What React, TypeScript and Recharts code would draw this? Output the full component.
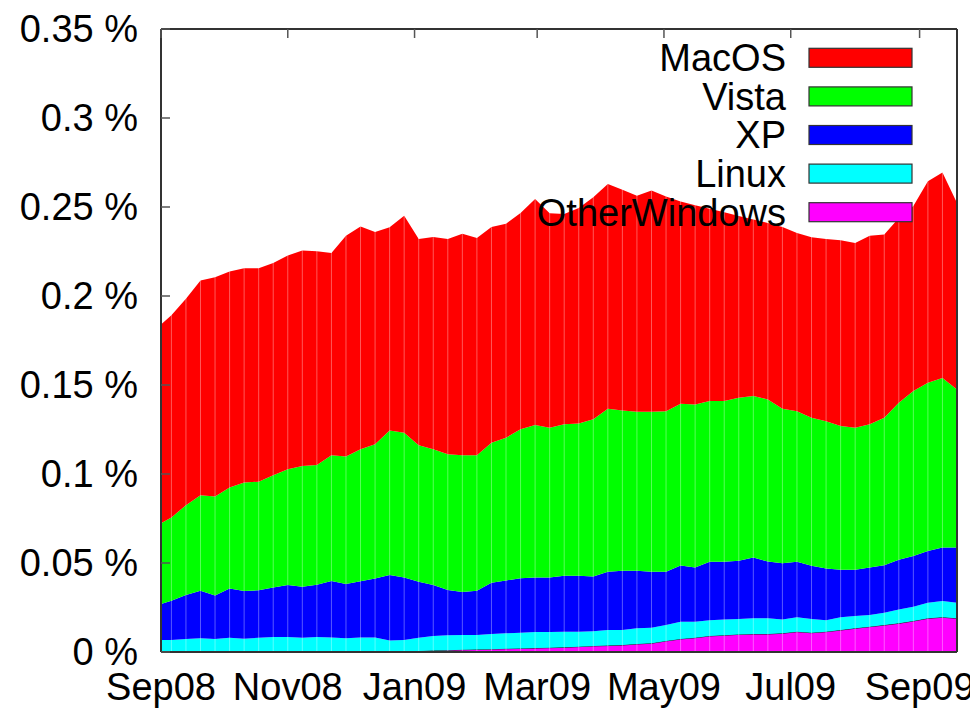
import React from 'react';
import { Area, AreaChart, ReferenceLine, XAxis, YAxis } from 'recharts';

// days since 1 Sep 2008: the left edge, then one sample per week
const DAYS = [0, ...Array.from({ length: 55 }, (_, i) => 5 + 7 * i)];

// share of visits, in %
const MACOS = [
  0.1116, 0.1137, 0.1159, 0.1206, 0.1232, 0.1213, 0.1204, 0.1199, 0.1193, 0.1201,
  0.121, 0.12, 0.1137, 0.1241, 0.1252, 0.1193, 0.1141, 0.1219, 0.1159, 0.1193,
  0.1209, 0.1245, 0.1221, 0.1212, 0.1202, 0.1215, 0.127, 0.1205, 0.1181, 0.1211,
  0.1248, 0.1262, 0.124, 0.1213, 0.1243, 0.1206, 0.1136, 0.1119, 0.108, 0.106,
  0.1022, 0.0992, 0.0991, 0.1021, 0.1001, 0.1014, 0.1023, 0.1044, 0.1038, 0.106,
  0.1029, 0.1038, 0.1039, 0.1133, 0.1154, 0.1047,
];
const VISTA = [
  0.0455, 0.0467, 0.0505, 0.0537, 0.0555, 0.0567, 0.061, 0.061, 0.0631, 0.0649,
  0.0678, 0.0673, 0.0706, 0.0716, 0.0741, 0.0754, 0.0813, 0.0814, 0.0767, 0.0762,
  0.0762, 0.0768, 0.0761, 0.0787, 0.0802, 0.0837, 0.0856, 0.0842, 0.0851, 0.0856,
  0.0883, 0.0916, 0.0901, 0.0894, 0.0899, 0.0902, 0.0909, 0.0916, 0.0903, 0.0903,
  0.0916, 0.0907, 0.0911, 0.0868, 0.0846, 0.0832, 0.0828, 0.0807, 0.0798, 0.0804,
  0.0828, 0.0882, 0.0926, 0.0944, 0.0953, 0.0888,
];
const XP = [
  0.0202, 0.0221, 0.0247, 0.0267, 0.0245, 0.0277, 0.0267, 0.0267, 0.0278, 0.0293,
  0.0287, 0.0294, 0.0317, 0.0305, 0.0316, 0.0331, 0.0368, 0.0351, 0.0314, 0.0287,
  0.0255, 0.0242, 0.0249, 0.0288, 0.0297, 0.0306, 0.0307, 0.0305, 0.0314, 0.0314,
  0.0307, 0.0328, 0.0333, 0.0323, 0.0315, 0.03, 0.0316, 0.0305, 0.0328, 0.0324,
  0.0327, 0.0342, 0.0319, 0.0316, 0.0312, 0.0299, 0.029, 0.0267, 0.026, 0.0267,
  0.0267, 0.0279, 0.0286, 0.0291, 0.0301, 0.031,
];
const LINUX = [
  0.0067, 0.0067, 0.0073, 0.0077, 0.0073, 0.008, 0.0075, 0.008, 0.0084, 0.0084,
  0.008, 0.0084, 0.0082, 0.0077, 0.0082, 0.0082, 0.0064, 0.0064, 0.0075, 0.0082,
  0.0084, 0.0083, 0.0081, 0.0085, 0.0087, 0.0088, 0.009, 0.0089, 0.0088, 0.0084,
  0.0083, 0.0087, 0.0084, 0.0088, 0.0087, 0.0089, 0.0097, 0.009, 0.0089, 0.0089,
  0.0086, 0.0088, 0.0088, 0.0078, 0.0081, 0.0077, 0.0065, 0.0072, 0.0069, 0.0066,
  0.007, 0.0078, 0.008, 0.0088, 0.0091, 0.0088,
];
const OTHER_WINDOWS = [
  0, 0, 0, 0, 0, 0, 0, 0, 0, 0,
  0, 0, 0, 0, 0, 0, 0, 0.0003, 0.0005, 0.0008,
  0.001, 0.0012, 0.0014, 0.0016, 0.0018, 0.002, 0.0022, 0.0024, 0.0026, 0.003,
  0.0034, 0.0036, 0.0039, 0.0045, 0.0049, 0.0062, 0.0073, 0.008, 0.009, 0.0094,
  0.0099, 0.0101, 0.0101, 0.0105, 0.0114, 0.0108, 0.0114, 0.0123, 0.0133, 0.0142,
  0.0151, 0.0161, 0.0174, 0.0189, 0.0195, 0.0189,
];

const X_TICKS = [0, 61, 122, 181, 242, 303, 365];
const X_TICK_LABELS = ['Sep08', 'Nov08', 'Jan09', 'Mar09', 'May09', 'Jul09', 'Sep09'];
const Y_TICKS = [0, 0.05, 0.1, 0.15, 0.2, 0.25, 0.3, 0.35];

// legend order (top of stack first)
const SERIES = [
  { key: 'MacOS', color: '#ff0000' },
  { key: 'Vista', color: '#00ff00' },
  { key: 'XP', color: '#0000ff' },
  { key: 'Linux', color: '#00ffff' },
  { key: 'OtherWindows', color: '#ff00ff' },
];

const data = DAYS.map((day, i) => ({
  day,
  MacOS: MACOS[i],
  Vista: VISTA[i],
  XP: XP[i],
  Linux: LINUX[i],
  OtherWindows: OTHER_WINDOWS[i],
}));

const W = 970;
const H = 703;
const FONT = '"Liberation Sans", Arial, Helvetica, sans-serif';
const FONT_SIZE = 38;
const FRAME = '#333';
const TICK = '#555';
const TICK_LEN = 9;
const Y_GAP = 23;

const LeftTick = (props: any) => {
  const { x, y, payload } = props;
  const ax = x + Y_GAP;
  return (
    <g>
      <line x1={ax} x2={ax + TICK_LEN} y1={y} y2={y} stroke={TICK} strokeWidth={1.5} />
      <text x={x} y={y} dy="0.355em" textAnchor="end" fontFamily={FONT} fontSize={FONT_SIZE} fill="#000">
        {`${payload.value} %`}
      </text>
    </g>
  );
};

const RightTick = (props: any) => {
  const { x, y } = props;
  // axis is 1px wide, its line sits at x - 0 on the left edge
  return <line x1={x} x2={x - TICK_LEN} y1={y} y2={y} stroke={TICK} strokeWidth={1.5} />;
};

const BottomTick = (props: any) => {
  const { x, y, payload } = props;
  const idx = X_TICKS.indexOf(payload.value);
  return (
    <text x={x} y={y} dy="0.71em" textAnchor="middle" fontFamily={FONT} fontSize={FONT_SIZE} fill="#000">
      {X_TICK_LABELS[idx]}
    </text>
  );
};

const TopTick = (props: any) => {
  const { x, y } = props;
  return <line x1={x} x2={x} y1={y} y2={y + TICK_LEN} stroke={TICK} strokeWidth={1.5} />;
};

const ChartLegend: React.FC = () => (
  <svg width={W} height={H} style={{ position: 'absolute', left: 0, top: 0, pointerEvents: 'none' }}>
    {SERIES.map((s, i) => {
      const cy = 49.8 + i * 38.6;
      return (
        <g key={s.key}>
          <text x={778} y={cy} dy="0.355em" textAnchor="end" fontFamily={FONT} fontSize={FONT_SIZE} fill="#000">
            {s.key}
          </text>
          <rect x={801} y={cy - 9.5} width={103} height={19} fill={s.color} stroke="#333" strokeWidth={1.2} />
        </g>
      );
    })}
  </svg>
);

const App: React.FC = () => (
  <div style={{ position: 'relative', width: W, height: H }}>
    <AreaChart width={W} height={H} data={data} margin={{ top: 20, right: 20, left: 0, bottom: 0 }}>
      <XAxis
        dataKey="day"
        type="number"
        domain={[0, 383]}
        ticks={X_TICKS}
        interval={0}
        height={59}
        tickSize={0}
        tickMargin={21}
        tickLine={false}
        axisLine={{ stroke: FRAME, strokeWidth: 2 }}
        tick={<BottomTick />}
      />
      <XAxis
        xAxisId="top"
        orientation="top"
        dataKey="day"
        type="number"
        domain={[0, 383]}
        ticks={X_TICKS}
        interval={0}
        height={1}
        tickSize={0}
        tickMargin={0}
        tickLine={false}
        axisLine={{ stroke: FRAME, strokeWidth: 2 }}
        tick={<TopTick />}
      />
      <YAxis
        type="number"
        domain={[0, 0.35]}
        ticks={Y_TICKS}
        interval={0}
        width={153}
        tickSize={0}
        tickMargin={Y_GAP}
        tickLine={false}
        axisLine={{ stroke: FRAME, strokeWidth: 2 }}
        tick={<LeftTick />}
        allowDataOverflow
      />
      <YAxis
        yAxisId="right"
        orientation="right"
        type="number"
        domain={[0, 0.35]}
        ticks={Y_TICKS}
        interval={0}
        width={1}
        tickSize={0}
        tickMargin={0}
        tickLine={false}
        axisLine={{ stroke: FRAME, strokeWidth: 2 }}
        tick={<RightTick />}
      />
      <Area type="linear" dataKey="OtherWindows" stackId="1" fill="#ff00ff" fillOpacity={1} stroke="#222" strokeWidth={1} isAnimationActive={false} />
      <Area type="linear" dataKey="Linux" stackId="1" fill="#00ffff" fillOpacity={1} stroke="none" isAnimationActive={false} />
      <Area type="linear" dataKey="XP" stackId="1" fill="#0000ff" fillOpacity={1} stroke="none" isAnimationActive={false} />
      <Area type="linear" dataKey="Vista" stackId="1" fill="#00ff00" fillOpacity={1} stroke="none" isAnimationActive={false} />
      <Area type="linear" dataKey="MacOS" stackId="1" fill="#ff0000" fillOpacity={1} stroke="none" isAnimationActive={false} />
      {DAYS.slice(1, -1).map((d) => (
        <ReferenceLine key={d} x={d} stroke="#ffffff" strokeOpacity={0.35} strokeWidth={1} />
      ))}
    </AreaChart>
    <ChartLegend />
  </div>
);

export default App;
